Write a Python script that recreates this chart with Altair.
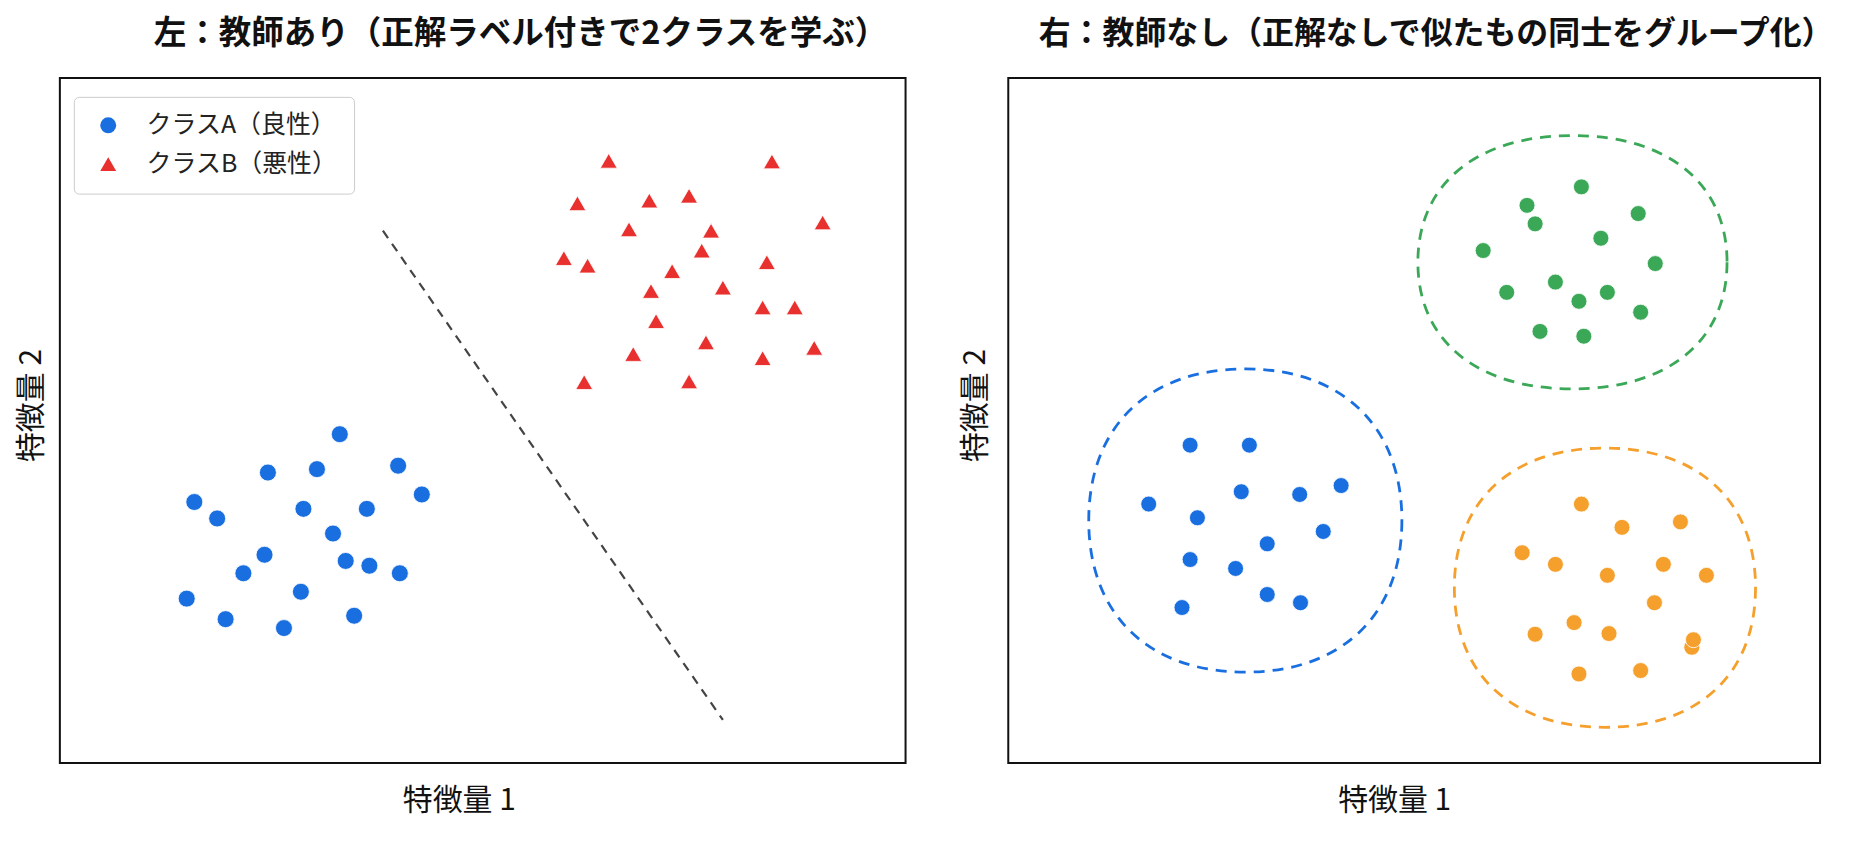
import altair as alt
import pandas as pd

FONT = "Noto Sans CJK JP"

# ---------------- Left panel: supervised (two labelled classes) ----------------
class_names = ["クラスA（良性）", "クラスB（悪性）"]

a_x = [3.31, 2.46, 3.04, 4.00, 1.59, 1.86, 2.88, 3.63, 4.28, 3.23,
       2.42, 3.38, 3.66, 4.02, 2.17, 2.85, 1.50, 3.48, 1.96, 2.65]
a_y = [4.80, 4.24, 4.29, 4.34, 3.81, 3.57, 3.71, 3.71, 3.92, 3.35,
       3.04, 2.95, 2.88, 2.77, 2.77, 2.50, 2.40, 2.15, 2.10, 1.97]

b_x = [6.49, 8.42, 6.12, 6.97, 7.44, 9.02, 6.73, 7.70, 7.59, 5.96, 6.24, 8.36,
       7.24, 6.99, 7.84, 8.31, 8.69, 7.05, 7.64, 6.78, 8.31, 8.92, 6.20, 7.44]
b_y = [8.79, 8.78, 8.17, 8.21, 8.28, 7.89, 7.79, 7.77, 7.48, 7.37, 7.26, 7.31,
       7.18, 6.89, 6.94, 6.65, 6.65, 6.45, 6.14, 5.97, 5.91, 6.06, 5.56, 5.57]

boundary_x = [3.82, 7.84]
boundary_y = [7.77, 0.63]

# ---------------- Right panel: unsupervised (three clusters) ----------------
g_x = [7.06, 6.39, 7.76, 6.49, 7.30, 5.85, 7.97, 6.74, 6.14, 7.38, 7.03, 7.79, 6.55, 7.09]
g_y = [8.41, 8.14, 8.02, 7.87, 7.66, 7.48, 7.29, 7.02, 6.87, 6.87, 6.74, 6.58, 6.30, 6.23]

c_x = [2.24, 2.97, 4.10, 2.87, 3.59, 1.73, 2.33, 3.88, 3.19, 2.24, 2.80, 3.19, 3.60, 2.14]
c_y = [4.64, 4.64, 4.05, 3.96, 3.92, 3.78, 3.58, 3.38, 3.20, 2.97, 2.84, 2.46, 2.34, 2.27]

o_x = [7.06, 7.56, 8.28, 6.33, 6.74, 7.38, 8.07, 8.60, 7.96, 6.97, 6.49, 7.40, 8.42, 8.44, 7.03, 7.79]
o_y = [3.78, 3.44, 3.52, 3.07, 2.90, 2.74, 2.90, 2.74, 2.34, 2.05, 1.88, 1.89, 1.69, 1.80, 1.30, 1.35]

cluster_names = ["blue", "green", "orange"]
cluster_cx = [2.92, 6.95, 7.35]
cluster_cy = [3.54, 7.31, 2.56]

# ---------------- styling (not data) ----------------
BLUE = "#1a6fe0"
RED = "#e8302e"
GREEN = "#3aa857"
ORANGE = "#f5a02c"
cluster_colors = {"blue": BLUE, "green": GREEN, "orange": ORANGE}
# outline half-widths / half-heights in pixels
cluster_rx = {"blue": 157, "green": 155, "orange": 151}
cluster_ry = {"blue": 152, "green": 127, "orange": 140}

LW, RW, H = 848, 814, 687


def ellipse_path(k, c=0.62):
    return (f"M 1 0 C 1 {c*k:.4f} {c} {k:.4f} 0 {k:.4f} "
            f"C {-c} {k:.4f} -1 {c*k:.4f} -1 0 "
            f"C -1 {-c*k:.4f} {-c} {-k:.4f} 0 {-k:.4f} "
            f"C {c} {-k:.4f} 1 {-c*k:.4f} 1 0 Z")


xs = alt.Scale(domain=[0, 10], nice=False, zero=False)
ys = alt.Scale(domain=[0, 10], nice=False, zero=False)

AX = dict(labels=False, ticks=False, domain=False, grid=False,
          titleFont=FONT, titleFontSize=30, titleFontWeight="normal",
          titleColor="#111111")

# ---------- left ----------
left_df = pd.DataFrame({
    "x": a_x + b_x,
    "y": a_y + b_y,
    "cls": [class_names[0]] * len(a_x) + [class_names[1]] * len(b_x),
})
line_df = pd.DataFrame({"x": boundary_x, "y": boundary_y})

x_left = alt.X("x:Q", scale=xs, title="特徴量 1",
               axis=alt.Axis(titleX=400, titlePadding=23, **AX))
y_left = alt.Y("y:Q", scale=ys, title="特徴量 2",
               axis=alt.Axis(titleY=328, titlePadding=13, **AX))

legend = alt.Legend(
    orient="none", legendX=14, legendY=19, title=None,
    padding=16, fillColor="white", strokeColor="#cccccc", cornerRadius=5,
    labelFont=FONT, labelFontSize=25, labelColor="#222222", labelLimit=400,
    labelExpr="datum.label + '\u3000\u3000'",
    symbolSize=256, symbolOffset=6, labelOffset=26, rowPadding=13,
    symbolStrokeWidth=0,
)

pts_left = alt.Chart(left_df).mark_point(
    filled=True, opacity=1, stroke="white", strokeWidth=0.8
).encode(
    x=x_left, y=y_left,
    color=alt.Color("cls:N", scale=alt.Scale(domain=class_names, range=[BLUE, RED]), legend=legend),
    shape=alt.Shape("cls:N", scale=alt.Scale(domain=class_names, range=["circle", "triangle-up"]), legend=legend),
    size=alt.value(290),
)

line_left = alt.Chart(line_df).mark_line(
    color="#444444", strokeWidth=2.2, strokeDash=[9, 7]
).encode(x=x_left, y=y_left)

left = alt.layer(line_left, pts_left).properties(
    width=LW, height=H,
    title=alt.TitleParams(
        "左：教師あり（正解ラベル付きで2クラスを学ぶ）",
        font=FONT, fontSize=32.6, fontWeight="bold", color="#111111",
        anchor="middle", frame="group", dx=38, offset=27,
    ),
)

# ---------- right ----------
right_df = pd.DataFrame({
    "x": c_x + g_x + o_x,
    "y": c_y + g_y + o_y,
    "grp": ["blue"] * len(c_x) + ["green"] * len(g_x) + ["orange"] * len(o_x),
})
x_right = alt.X("x:Q", scale=xs, title="特徴量 1",
                axis=alt.Axis(titleX=387, titlePadding=23, **AX))
y_right = alt.Y("y:Q", scale=ys, title="特徴量 2",
                axis=alt.Axis(titleY=328, titlePadding=18, **AX))

pts_right = alt.Chart(right_df).mark_point(
    filled=True, opacity=1, stroke="white", strokeWidth=0.8, shape="circle", size=256
).encode(
    x=x_right, y=y_right,
    fill=alt.Fill("grp:N", scale=alt.Scale(domain=cluster_names,
                                           range=[cluster_colors[n] for n in cluster_names]),
                  legend=None),
)

outline_layers = []
for name, cx, cy in zip(cluster_names, cluster_cx, cluster_cy):
    rx, ry = cluster_rx[name], cluster_ry[name]
    odf = pd.DataFrame({"x": [cx], "y": [cy]})
    outline_layers.append(
        alt.Chart(odf).mark_point(
            shape=ellipse_path(ry / rx), size=(2 * rx) ** 2, filled=False,
            stroke=cluster_colors[name], strokeWidth=2.8, strokeDash=[11, 8], opacity=1,
        ).encode(x=x_right, y=y_right)
    )

right = alt.layer(*outline_layers, pts_right).properties(
    width=RW, height=H,
    title=alt.TitleParams(
        "右：教師なし（正解なしで似たもの同士をグループ化）",
        font=FONT, fontSize=32, fontWeight="bold", color="#111111",
        anchor="middle", frame="group", dx=22, offset=27,
    ),
)

chart = alt.hconcat(left, right, spacing=53).resolve_scale(
    color="independent", shape="independent", fill="independent"
).configure_view(
    stroke="#111111", strokeWidth=2
).properties(
    background="white",
    padding={"left": 8, "top": 8, "right": 5, "bottom": 5},
)

chart.save("out.html", embed_options={"renderer": "svg", "actions": False})
